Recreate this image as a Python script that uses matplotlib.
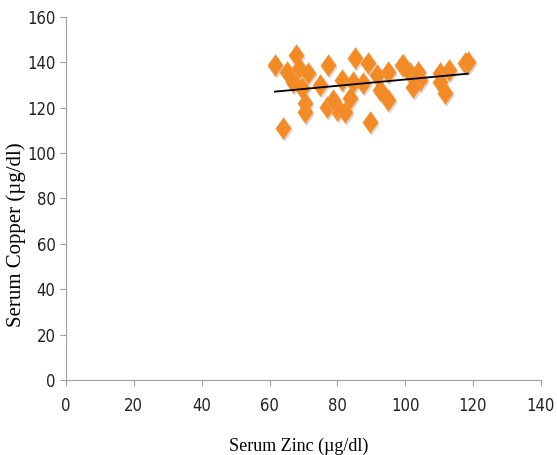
import matplotlib.pyplot as plt
import numpy as np

# serum zinc vs serum copper (ug/dl)
zinc = [61.6, 67.8, 65.1, 68.7, 71.3, 66.9, 69.6, 77.2, 74.9, 70.4, 70.4, 76.9, 80.0, 64.0,
        85.2, 89.0, 81.3, 84.6, 87.5, 91.7, 94.9, 99.0, 92.5, 94.9, 79.9, 82.2, 83.7, 89.6, 78.7,
        99.3, 101.4, 103.7, 104.3, 102.3, 110.2, 112.9, 110.2, 111.7, 117.6, 118.5]
copper = [138.8, 143.2, 135.7, 137.4, 135.2, 131.3, 128.6, 138.8, 130.0, 122.0, 118.0, 120.3, 119.0, 111.0,
          141.8, 139.6, 132.2, 131.3, 130.8, 134.4, 135.7, 138.8, 127.8, 123.3, 120.3, 118.0, 124.2, 113.7, 123.3,
          138.8, 135.2, 135.7, 132.2, 129.0, 135.2, 136.6, 131.3, 126.4, 139.6, 140.1]

x_ticks = [0, 20, 40, 60, 80, 100, 120, 140]
y_ticks = [0, 20, 40, 60, 80, 100, 120, 140, 160]

zinc = np.array(zinc)
copper = np.array(copper)

fig = plt.figure(figsize=(5.57, 4.55), dpi=100)
ax = fig.add_axes([0.1185, 0.165, 0.8525, 0.798])

diamond = [(0, 1.2), (0.85, 0), (0, -1.2), (-0.85, 0)]

# shadow, then markers
ax.scatter(zinc + 0.6, copper - 1.2, marker=diamond, s=250, color='#b8b8b8', alpha=0.5,
           edgecolors='none', zorder=2)
ax.scatter(zinc, copper, marker=diamond, s=250, color='#f28a26', edgecolors='#f7a04a',
           linewidths=0.5, zorder=3)

# linear trend
m, b = np.polyfit(zinc, copper, 1)
xs = np.array([zinc.min(), zinc.max()])
ax.plot(xs, m * xs + b, color='black', lw=1.3, zorder=4)

ax.set_xlim(0, 140)
ax.set_ylim(0, 160)
ax.set_xticks(x_ticks)
ax.set_yticks(y_ticks)
ax.spines['top'].set_visible(False)
ax.spines['right'].set_visible(False)
ax.spines['left'].set_color('#a0a0a0')
ax.spines['bottom'].set_color('#a0a0a0')
ax.tick_params(colors='#a0a0a0', labelcolor='#222222', labelsize=12, length=4)
ax.tick_params(axis='x', pad=8)
for lab in ax.get_xticklabels() + ax.get_yticklabels():
    lab.set_family('DejaVu Sans')
    lab.set_stretch('condensed')

ax.set_xlabel('Serum Zinc (µg/dl)', family='Liberation Serif', fontsize=13)
ax.set_ylabel('Serum Copper (µg/dl)', family='Liberation Serif', fontsize=15)
ax.xaxis.set_label_coords(0.49, -0.16)
ax.yaxis.set_label_coords(-0.085, 0.4)

fig.savefig('out.png', dpi=100)
